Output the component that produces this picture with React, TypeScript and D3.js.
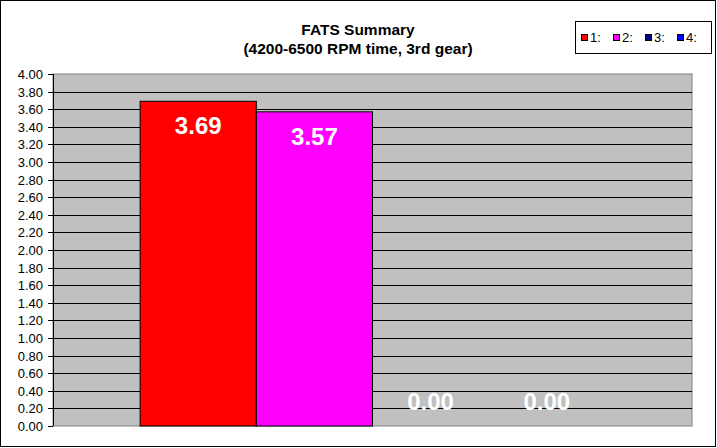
import * as d3 from "d3";

const seriesNames = ["1:", "2:", "3:", "4:"];
const seriesValues = [3.69, 3.57, 0.0, 0.0];
const seriesColors = ["#FF0000", "#FF00FF", "#000080", "#0000FF"];
const yTicks = d3.range(0, 4.0001, 0.2);
const titleLines = ["FATS Summary", "(4200-6500 RPM time, 3rd gear)"];

const W = 717;
const H = 448;
const plot = { left: 53, right: 692, top: 74, bottom: 426 };
const font = "Arial, 'Liberation Sans', sans-serif";

export default function App() {
  const y = d3.scaleLinear().domain([0, 4]).range([plot.bottom, plot.top]);
  const x = d3
    .scaleBand()
    .domain(seriesNames)
    .range([plot.left, plot.right])
    .paddingInner(0)
    .paddingOuter(0.75);
  const fmt = d3.format(".2f");

  return (
    <>
      <style>{"body{margin:0}"}</style>
      <svg width={W} height={H} style={{ display: "block", fontFamily: font }}>
        <rect x={0} y={0} width={W} height={H} fill="#fff" />
        <rect x={0.5} y={0.5} width={715} height={446} fill="none" stroke="#000" />

        {/* title */}
        {titleLines.map((t, i) => (
          <text key={t} x={358} y={35 + i * 19} textAnchor="middle" fontSize={15.5} fontWeight="bold">
            {t}
          </text>
        ))}

        {/* plot area */}
        <rect
          x={plot.left}
          y={plot.top}
          width={plot.right - plot.left}
          height={plot.bottom - plot.top}
          fill="#C0C0C0"
          stroke="#808080"
        />
        {yTicks
          .filter((t) => t > 0.001 && t < 3.999)
          .map((t) => (
            <line key={t} x1={plot.left} x2={plot.right} y1={Math.round(y(t)) + 0.5} y2={Math.round(y(t)) + 0.5} stroke="#000" />
          ))}

        {/* bars */}
        {seriesNames.map((s, i) => {
          const v = seriesValues[i];
          const x0 = x(s)!;
          const bw = x.bandwidth();
          return (
            <g key={s}>
              {v > 0 && (
                <rect x={x0} y={y(v)} width={bw} height={y(0) - y(v)} fill={seriesColors[i]} stroke="#000" />
              )}
            </g>
          );
        })}

        {/* y axis */}
        <line x1={plot.left + 0.5} x2={plot.left + 0.5} y1={plot.top} y2={plot.bottom} stroke="#000" />
        {yTicks.map((t) => {
          const yy = Math.round(y(t)) + 0.5;
          return (
            <g key={t}>
              <line x1={plot.left - 5} x2={plot.left} y1={yy} y2={yy} stroke="#000" />
              <text x={43} y={yy} dy="0.36em" textAnchor="end" fontSize={13}>
                {fmt(t)}
              </text>
            </g>
          );
        })}

        {/* data labels */}
        {seriesNames.map((s, i) => {
          const v = seriesValues[i];
          const cx = x(s)! + x.bandwidth() / 2;
          const base = Math.min(y(v) + 33, y(0) - 16);
          return (
            <text key={s} x={cx} y={base} textAnchor="middle" fontSize={24} fontWeight="bold" fill="#fff">
              {fmt(v)}
            </text>
          );
        })}

        {/* legend */}
        <rect x={575.5} y={21.5} width={136} height={32} fill="#fff" stroke="#000" />
        {seriesNames.map((s, i) => {
          const lx = 581 + i * 32;
          return (
            <g key={s}>
              <rect x={lx + 0.5} y={34.5} width={6} height={6} fill={seriesColors[i]} stroke="#000" />
              <text x={lx + 9} y={42} fontSize={13}>
                {s}
              </text>
            </g>
          );
        })}
      </svg>
    </>
  );
}
